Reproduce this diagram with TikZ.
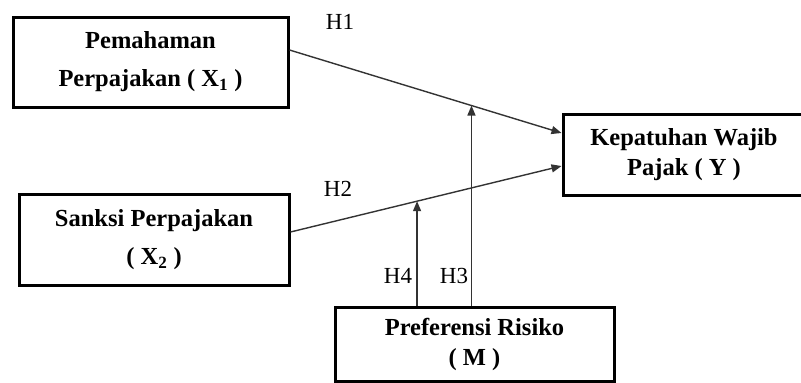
\documentclass[tikz,border=0pt]{standalone}
\usepackage{fontspec}
\setmainfont{Liberation Serif}
\usetikzlibrary{arrows.meta}

\begin{document}
\begin{tikzpicture}[x=1pt, y=-1pt,
  varbox/.style={draw, line width=3pt, align=center, inner sep=0pt,
    font=\fontsize{24.5}{30}\selectfont\bfseries},
  path/.style={draw=black!80, line width=1.4pt,
    -{Triangle[length=10pt,width=8pt]}},
  hlabel/.style={font=\fontsize{23}{28}\selectfont}]
\useasboundingbox (0,0) rectangle (801,383);

% Boxes
\node[varbox, minimum width=275pt, minimum height=90pt] (x1) at (150.5,62)
  {Pemahaman\\[8pt]Perpajakan ( X\textsubscript{1} )};
\node[varbox, minimum width=270pt, minimum height=91pt] (x2) at (154,239.5)
  {Sanksi Perpajakan\\[8pt]( X\textsubscript{2} )};
\node[varbox, minimum width=242pt, minimum height=81pt] (y) at (684,154.5)
  {Kepatuhan Wajib\\Pajak ( Y )};
\node[varbox, minimum width=279pt, minimum height=74pt] (m) at (474.5,344.5)
  {Preferensi Risiko\\( M )};

% Arrows
\draw[path] ([yshift=12pt]x1.east) -- coordinate[pos=0.669] (h3) ([yshift=21.5pt]y.west);
\draw[path] ([yshift=7.5pt]x2.east) -- coordinate[pos=0.467] (h4) ([yshift=-11.5pt]y.west);
\draw[path] (m.north -| h3) -- (h3);
\draw[path] (m.north -| h4) -- (h4);

% Labels
\node[hlabel] (lh1) at (340,22) {H1};
\node[hlabel] (lh2) at (338,189) {H2};
\node[hlabel] (lh4) at (398,276) {H4};
\node[hlabel] (lh3) at (454,276) {H3};
\end{tikzpicture}
\end{document}
